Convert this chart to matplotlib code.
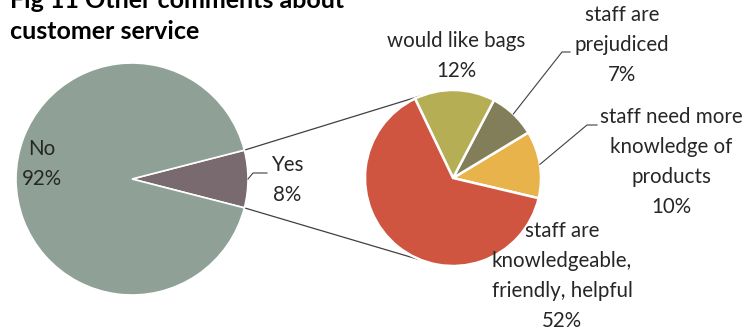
import numpy as np
import matplotlib
matplotlib.use("Agg")
import matplotlib.pyplot as plt

matplotlib.rcParams['font.family'] = ['Lato', 'DejaVu Sans']

# data
main_labels = ["No", "Yes"]
main_values = [92, 8]
sub_labels = ["staff need more\nknowledge of\nproducts", "staff are\nprejudiced",
              "would like bags", "staff are\nknowledgeable,\nfriendly, helpful"]
sub_values = [10, 7, 12, 52]

main_colors = ["#8FA196", "#786A6E"]
sub_colors = ["#E8B34B", "#827E59", "#B5AE55", "#CF5541"]

W, H = 751, 329
fig = plt.figure(figsize=(W / 100, H / 100), dpi=100)
ax = fig.add_axes([0, 0, 1, 1])

def py(y):  # picture y (from top) -> axes y
    return H - y

c1, r1 = (132, py(179)), 116
c2, r2 = (453, py(178)), 88

# left pie, "Yes" slice centred on the right
yes_span = 360 * main_values[1] / sum(main_values)
ax.pie(main_values[::-1], colors=main_colors[::-1], center=c1, radius=r1,
       startangle=-yes_span / 2, counterclock=True,
       wedgeprops=dict(edgecolor='white', linewidth=1.2), frame=True)

# right pie
start2 = -13.3
ax.pie(sub_values, colors=sub_colors, center=c2, radius=r2,
       startangle=start2, counterclock=True,
       wedgeprops=dict(edgecolor='white', linewidth=1.8), frame=True)
ax.set_xlim(0, W)
ax.set_ylim(0, H)
ax.set_aspect('equal')
ax.axis('off')

# connector lines
a_top = np.radians(yes_span / 2)
a_bot = np.radians(-yes_span / 2)
for a1, a2 in [(a_top, np.radians(107)), (a_bot, np.radians(-110))]:
    ax.plot([c1[0] + r1 * np.cos(a1), c2[0] + r2 * np.cos(a2)],
            [c1[1] + r1 * np.sin(a1), c2[1] + r2 * np.sin(a2)],
            color='#404040', lw=0.9, zorder=0)

fs = 14.8
ls = 1.62
tc = '#262626'
total_sub = sum(sub_values)

def pct(v):
    return f"{v}%"

# left pie labels
ax.text(42, py(164), f"No\n{pct(main_values[0])}", ha='center', va='center',
        fontsize=fs, color=tc, linespacing=ls)
ax.text(287, py(180), f"Yes\n{pct(main_values[1])}", ha='center', va='center',
        fontsize=fs, color=tc, linespacing=ls)
ax.plot([c1[0] + r1, 253, 267], [c1[1], py(173), py(173)], color='#404040', lw=0.8)

# right pie labels
label_pos = [(671, 162), (622, 45), (456, 56), (562, 276)]
leader_end = [(587, 125, 597), (562, 52, 570), None, None]
ang = start2
for lab, v, pos, le in zip(sub_labels, sub_values, label_pos, leader_end):
    span = 360 * v / total_sub
    mid = np.radians(ang + span / 2)
    ang += span
    ax.text(pos[0], py(pos[1]), f"{lab}\n{pct(v)}", ha='center', va='center',
            fontsize=fs, color=tc, linespacing=ls)
    if le is not None:
        x0, y0 = c2[0] + r2 * np.cos(mid), c2[1] + r2 * np.sin(mid)
        ax.plot([x0, le[0], le[2]], [y0, py(le[1]), py(le[1])],
                color='#404040', lw=0.8)

# title (top line is cut off in the original)
ax.text(10, py(8), "Fig 11 Other comments about", ha='left', va='baseline',
        fontsize=18, fontweight='bold', color='black')
ax.text(10, py(39), "customer service", ha='left', va='baseline',
        fontsize=18, fontweight='bold', color='black')

fig.savefig("out.png", dpi=100)
